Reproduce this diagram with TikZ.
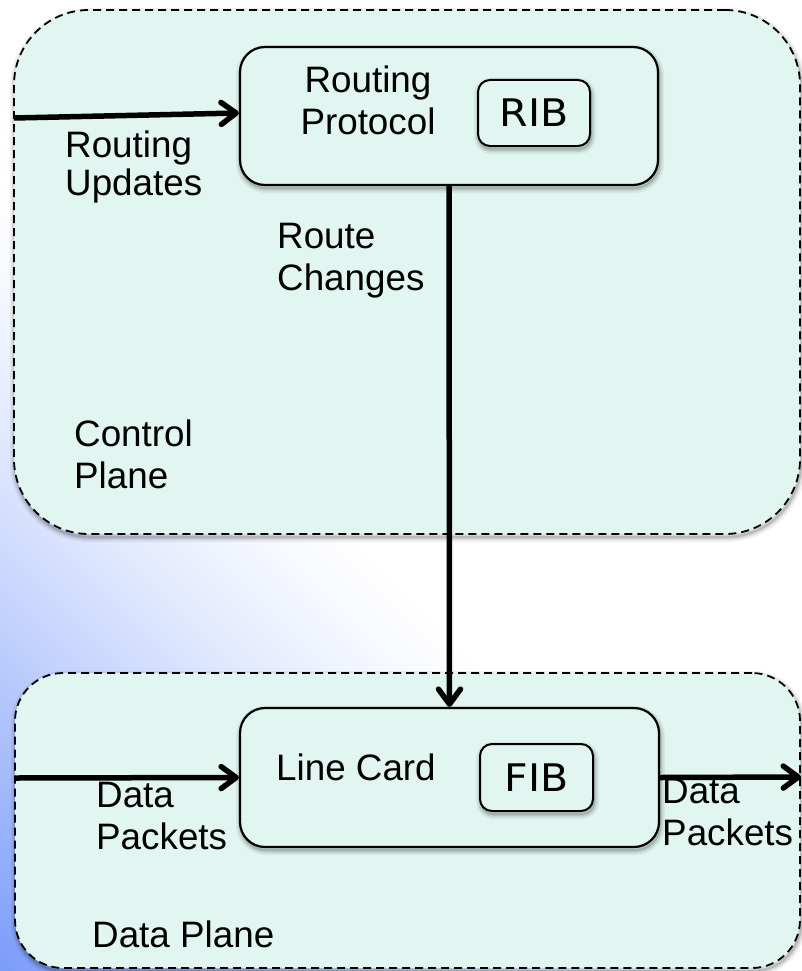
\documentclass[tikz,border=0pt]{standalone}
\usepackage{fontspec}
\setmainfont{Liberation Sans}
\newfontfamily\boxfont{DejaVu Sans}[FakeStretch=1.08]
\usetikzlibrary{arrows.meta}
\definecolor{mint}{RGB}{225,246,241}
\definecolor{bgblue}{RGB}{122,156,250}

\begin{document}
\begin{tikzpicture}[x=1pt,y=-1pt,
  softshadow/.style={
    preaction={draw=black, solid, draw opacity=0.06, line width=10pt, transform canvas={xshift=1pt,yshift=-3pt}},
    preaction={draw=black, solid, draw opacity=0.09, line width=6pt, transform canvas={xshift=1pt,yshift=-3pt}},
    preaction={draw=black, solid, draw opacity=0.14, line width=2.5pt, transform canvas={xshift=1pt,yshift=-3pt}}},
  plane/.style={draw=black, line width=1.8pt, dash pattern=on 8pt off 5pt, fill=mint,
    rounded corners=#1, inner sep=0pt, softshadow},
  unit/.style={draw=black, line width=2.2pt, fill=mint, rounded corners=25pt, inner sep=0pt, softshadow},
  tbl/.style={draw=black, line width=2pt, fill=mint, rounded corners=12pt, inner sep=0pt,
    font=\boxfont\fontsize{38}{42}\selectfont, softshadow},
  lbl/.style={inner sep=0pt, align=left, font=\fontsize{36.8}{42}\selectfont},
  arr/.style={line width=5.5pt, -{Straight Barb[length=15pt, width=22pt, line cap=round, line join=round]}}
]
\useasboundingbox (0,0) rectangle (802,971);
\fill[white] (0,0) rectangle (802,971);

% diagonal blue-to-white background wash from the lower left corner
\begin{scope}
  \clip (0,0) rectangle (802,971);
  \begin{scope}[shift={(0,971)}, rotate=45]
    \foreach \i in {0,...,111} {
      \pgfmathsetmacro\p{100*(1-(\i+0.5)/112)^1.3}
      \fill[bgblue!\p!white] (5*\i,-1300) rectangle (5*\i+6,1300);
    }
  \end{scope}
\end{scope}

% planes
\node[plane=75pt, minimum width=786pt, minimum height=524pt] (cp) at (407,272) {};
\node[plane=48pt, minimum width=785pt, minimum height=295pt] (dp) at (407.5,820.5) {};

% functional blocks
\node[unit, minimum width=418pt, minimum height=138pt] (rp) at (449,116) {};
\node[unit, minimum width=419pt, minimum height=139pt] (lc) at (449.5,777.5) {};
\node[tbl, minimum width=112pt, minimum height=66pt] (rib) at (534,113) {RIB};
\node[tbl, minimum width=113pt, minimum height=67pt] (fib) at (536.5,777.5) {FIB};

% connectors
\coordinate (ruin) at (14,118);
\coordinate (dpin) at (15,778);
\coordinate (dpout) at (801,777);
\draw[arr] (ruin) -- ([yshift=3pt]rp.west);
\draw[arr] (rp.south) -- (lc.north);
\draw[arr] (dpin) -- (lc.west);
\draw[arr] (lc.east) -- (dpout);

% labels (base anchor sits on the last line)
\node[lbl, anchor=base west, font=\fontsize{36.8}{38}\selectfont] (rulbl) at (65,195) {Routing\\Updates};
\node[lbl, align=center, anchor=base] (rplbl) at (368,135) {Routing\\Protocol};
\node[lbl, anchor=base west] (rclbl) at (277,290) {Route\\Changes};
\node[lbl, anchor=base west] (cplbl) at (74,488) {Control\\Plane};
\node[lbl, anchor=base west] (lclbl) at (276,780) {Line Card};
\node[lbl, anchor=base west] (dpinlbl) at (96,849) {Data\\Packets};
\node[lbl, anchor=base west] (dpoutlbl) at (662,845) {Data\\Packets};
\node[lbl, anchor=base west] (dplbl) at (92,947) {Data Plane};
\end{tikzpicture}
\end{document}
